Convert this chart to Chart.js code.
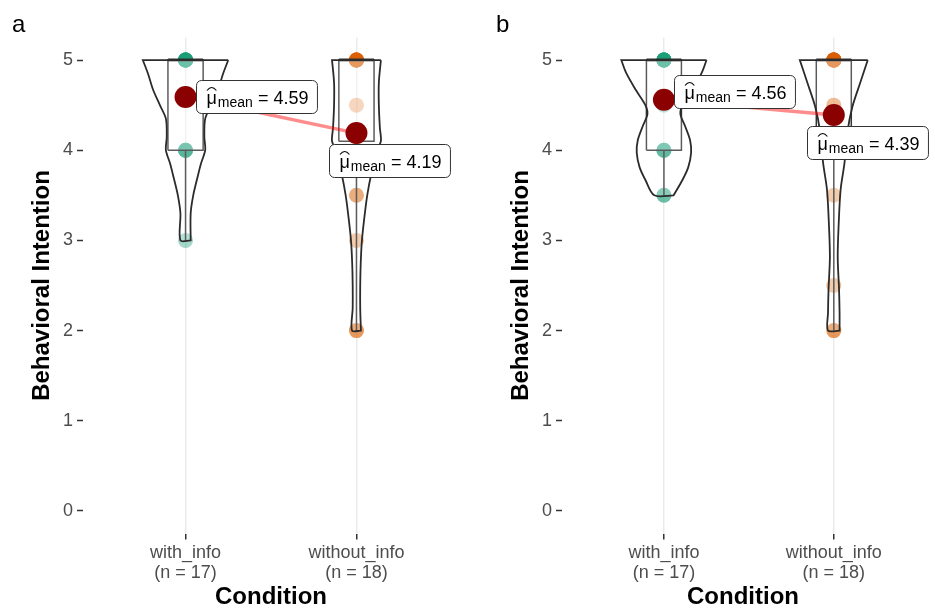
<!DOCTYPE html>
<html>
<head>
<meta charset="utf-8">
<script src="https://cdn.jsdelivr.net/npm/chart.js@4.4.1/dist/chart.umd.min.js"></script>
<style>
  body { margin: 0; background: #fff; }
  #wrap { position: relative; width: 935px; height: 612px; overflow: hidden; }
  canvas { position: absolute; top: 0; }
  .tag { position: absolute; top: 12px; font: 24px "Liberation Sans", Arial, sans-serif; line-height: 1; color: #000; }
</style>
</head>
<body>
<div id="wrap">
  <canvas id="chart-a" width="470" height="612" style="left:0"></canvas>
  <canvas id="chart-b" width="465" height="612" style="left:470px"></canvas>
  <div class="tag" style="left:12px">a</div>
  <div class="tag" style="left:496px">b</div>
</div>
<script>
const categories = ["with_info", "without_info"]
const groupN = [17, 18]
const yTicks = [0, 1, 2, 3, 4, 5]

// panel a
const pointsAWith = [5, 5, 5, 5, 5, 5, 5, 5, 5, 5, 5, 4, 4, 4, 4, 4, 3]
const pointsAWithout = [5, 5, 5, 5, 5, 5, 5, 5, 5, 4.5, 4, 4, 4, 3.5, 3.5, 3, 2, 2]
const meansA = [4.59, 4.19]
const boxLowA = [4, 4.1]
const boxMedA = [5, 5]
const boxHighA = [5, 5]
const whiskerLowA = [3, 2]
const violinYAWith = [5, 4.85, 4.67, 4.5, 4.35, 4.15, 4.0, 3.85, 3.7, 3.5, 3.3, 3.0]
const violinWAWith = [0.25, 0.22, 0.19, 0.15, 0.115, 0.11, 0.115, 0.09, 0.07, 0.045, 0.03, 0.03]
const violinYAWithout = [5, 4.75, 4.5, 4.25, 4.1, 4.0, 3.75, 3.5, 3.25, 3.0, 2.75, 2.5, 2.25, 2.0]
const violinWAWithout = [0.143, 0.131, 0.131, 0.137, 0.143, 0.12, 0.088, 0.063, 0.046, 0.032, 0.025, 0.022, 0.022, 0.026]

// panel b
const pointsBWith = [5, 5, 5, 5, 5, 5, 5, 5, 5, 5, 4.5, 4, 4, 4, 4, 3.5, 3.5]
const pointsBWithout = [5, 5, 5, 5, 5, 5, 5, 5, 5, 5, 5, 5, 4.5, 4.5, 3.5, 2.5, 2, 2]
const meansB = [4.56, 4.39]
const boxLowB = [4, 4]
const boxMedB = [5, 5]
const boxHighB = [5, 5]
const whiskerLowB = [3.5, 2]
const violinYBWith = [5, 4.86, 4.67, 4.5, 4.4, 4.26, 4.11, 3.97, 3.81, 3.67, 3.5]
const violinWBWith = [0.251, 0.223, 0.166, 0.109, 0.097, 0.126, 0.154, 0.16, 0.143, 0.109, 0.057]
const violinYBWithout = [5, 4.74, 4.48, 4.2, 3.86, 3.56, 3.19, 2.82, 2.45, 2.2, 2.0]
const violinWBWithout = [0.2, 0.154, 0.109, 0.08, 0.063, 0.04, 0.029, 0.023, 0.031, 0.034, 0.034]

const FONT = "'Liberation Sans', Arial, sans-serif"
Chart.defaults.font.family = FONT
Chart.defaults.animation = false

const catX = [1, 2]
const pointFill = ["rgba(27, 158, 119, 0.4)", "rgba(217, 95, 2, 0.4)"]
const BOX = 0.103

// right side top->bottom, left side bottom->top; corners doubled so spline stays sharp there
function violinPath(x0, levels, widths) {
  const right = levels.map((y, i) => ({ x: x0 + widths[i], y }))
  const left = levels.map((y, i) => ({ x: x0 - widths[i], y })).reverse()
  return [...right, right[right.length - 1], ...left, left[left.length - 1], right[0]]
}

const meanLabels = {
  id: "meanLabels",
  afterDatasetsDraw(chart, args, opts) {
    const ctx = chart.ctx
    const meta = chart.getDatasetMeta(chart.data.datasets.length - 1)
    meta.data.forEach((pt, i) => {
      const [dx, dy] = opts.offsets[i]
      const tail = " = " + opts.values[i].toFixed(2)
      ctx.save()
      ctx.font = "18px " + FONT
      const wMu = ctx.measureText("μ").width
      const wTail = ctx.measureText(tail).width
      ctx.font = "14px " + FONT
      const wSub = ctx.measureText("mean").width
      const w = 10 + wMu + 1 + wSub + wTail + 9
      const h = 33
      const x = Math.round(pt.x + dx) + 0.5
      const y = Math.round(pt.y + dy) + 0.5
      ctx.beginPath()
      ctx.roundRect(x, y, w, h, 5)
      ctx.fillStyle = "#fff"
      ctx.fill()
      ctx.strokeStyle = "#333"
      ctx.lineWidth = 1
      ctx.stroke()
      const base = y + 23
      let tx = x + 10
      ctx.fillStyle = "#000"
      ctx.textBaseline = "alphabetic"
      ctx.font = "18px " + FONT
      ctx.fillText("μ", tx, base)
      // hat over mu
      ctx.beginPath()
      ctx.moveTo(tx + 0.5, base - 13)
      ctx.quadraticCurveTo(tx + wMu / 2, base - 19, tx + wMu - 0.5, base - 13)
      ctx.lineWidth = 1.1
      ctx.strokeStyle = "#000"
      ctx.stroke()
      tx += wMu + 1
      ctx.font = "14px " + FONT
      ctx.fillText("mean", tx, base + 3)
      tx += wSub
      ctx.font = "18px " + FONT
      ctx.fillText(tail, tx, base)
      ctx.restore()
    })
  },
}

function drawPanel(id, p) {
  const datasets = []
  p.points.forEach((vals, i) => {
    const c = catX[i]
    datasets.push({
      data: vals.map((v) => ({ x: c, y: v })),
      backgroundColor: pointFill[i],
      borderWidth: 0,
      pointRadius: 7.5,
      order: 6,
    })
    datasets.push({
      data: [
        { x: c - BOX, y: p.boxLow[i] },
        { x: c + BOX, y: p.boxLow[i] },
        { x: c + BOX, y: p.boxHigh[i] },
        { x: c - BOX, y: p.boxHigh[i] },
        { x: c - BOX, y: p.boxLow[i] },
      ],
      showLine: true,
      fill: "shape",
      backgroundColor: "rgba(255, 255, 255, 0.2)",
      borderColor: "#333",
      borderWidth: 1.5,
      pointRadius: 0,
      order: 5,
    })
    datasets.push({
      data: [
        { x: c - BOX, y: p.boxMed[i] },
        { x: c + BOX, y: p.boxMed[i] },
      ],
      showLine: true,
      borderColor: "#333",
      borderWidth: 3,
      pointRadius: 0,
      order: 5,
    })
    datasets.push({
      data: [
        { x: c, y: p.boxLow[i] },
        { x: c, y: p.whisker[i] },
      ],
      showLine: true,
      borderColor: "#333",
      borderWidth: 1.5,
      pointRadius: 0,
      order: 5,
    })
    datasets.push({
      data: violinPath(c, p.violinY[i], p.violinW[i]),
      showLine: true,
      fill: "shape",
      tension: 0.3,
      backgroundColor: "rgba(255, 255, 255, 0.2)",
      borderColor: "#2b2b2b",
      borderWidth: 1.8,
      pointRadius: 0,
      order: 4,
    })
  })
  datasets.push({
    data: p.means.map((m, i) => ({ x: catX[i], y: m })),
    showLine: true,
    borderColor: "rgba(255, 0, 0, 0.45)",
    borderWidth: 3.5,
    pointRadius: 0,
    order: 2,
  })
  datasets.push({
    data: p.means.map((m, i) => ({ x: catX[i], y: m })),
    backgroundColor: "#8B0000",
    borderWidth: 0,
    pointRadius: 11,
    order: 1,
  })

  return new Chart(document.getElementById(id), {
    type: "scatter",
    data: { datasets },
    plugins: [meanLabels],
    options: {
      responsive: false,
      events: [],
      layout: { padding: { top: 37.5, right: p.padRight, left: 0, bottom: 0 } },
      plugins: {
        legend: { display: false },
        tooltip: { enabled: false },
        meanLabels: { values: p.means, offsets: p.labelOffsets },
      },
      scales: {
        x: {
          min: 0.4,
          max: p.xMax,
          afterBuildTicks: (s) => { s.ticks = catX.map((v) => ({ value: v })) },
          afterFit: (s) => { s.height = 78.5 },
          border: { display: false },
          grid: { color: "#EBEBEB", lineWidth: 1.5, tickColor: "#333", tickLength: 6, tickWidth: 1.5 },
          ticks: {
            color: "#4D4D4D",
            font: { size: 18, lineHeight: 1.1 },
            padding: 4,
            maxRotation: 0,
            autoSkip: false,
            callback: (v) => {
              const i = catX.indexOf(v)
              return [categories[i], "(n = " + p.n[i] + ")"]
            },
          },
          title: {
            display: true,
            text: "Condition",
            color: "#000",
            font: { size: 24, weight: "bold", lineHeight: 1.2 },
            padding: { top: 0, bottom: 0 },
          },
        },
        y: {
          min: -0.25,
          max: 5.25,
          afterBuildTicks: (s) => { s.ticks = yTicks.map((v) => ({ value: v })) },
          afterFit: (s) => { s.width = p.yWidth },
          border: { display: false },
          grid: { drawOnChartArea: false, tickColor: "#333", tickLength: 6, tickWidth: 1.5 },
          ticks: { color: "#4D4D4D", font: { size: 18 }, padding: 4 },
          title: {
            display: true,
            text: "Behavioral Intention",
            color: "#000",
            font: { size: 24, weight: "bold", lineHeight: 1.2 },
            padding: { top: p.titlePad, bottom: 0 },
          },
        },
      },
    },
  })
}

drawPanel("chart-a", {
  points: [pointsAWith, pointsAWithout],
  n: groupN,
  means: meansA,
  boxLow: boxLowA,
  boxMed: boxMedA,
  boxHigh: boxHighA,
  whisker: whiskerLowA,
  violinY: [violinYAWith, violinYAWithout],
  violinW: [violinWAWith, violinWAWithout],
  labelOffsets: [[10, -17], [-27, 11]],
  xMax: 2.6,
  yWidth: 83,
  titlePad: 27.6,
  padRight: 2,
})

drawPanel("chart-b", {
  points: [pointsBWith, pointsBWithout],
  n: groupN,
  means: meansB,
  boxLow: boxLowB,
  boxMed: boxMedB,
  boxHigh: boxHighB,
  whisker: whiskerLowB,
  violinY: [violinYBWith, violinYBWithout],
  violinW: [violinWBWith, violinWBWithout],
  labelOffsets: [[10, -25], [-27, 11]],
  xMax: 2.531,
  yWidth: 92,
  titlePad: 36.6,
  padRight: 0,
})
</script>
</body>
</html>
